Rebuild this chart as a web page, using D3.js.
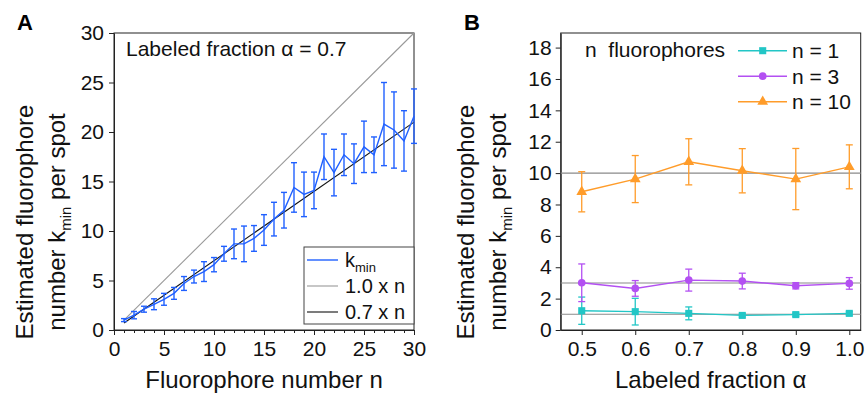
<!DOCTYPE html>
<html>
<head>
<meta charset="utf-8">
<script src="https://cdn.jsdelivr.net/npm/d3@7"></script>
<style>
  body { margin: 0; background: #fff; }
  svg { font-family: "Liberation Sans", Arial, sans-serif; }
</style>
</head>
<body>
<svg id="chart" width="865" height="394"></svg>
<script>
// ---- panel A data
const fluorophoreN = [1,2,3,4,5,6,7,8,9,10,11,12,13,14,15,16,17,18,19,20,21,22,23,24,25,26,27,28,29,30];
const kminMean = [1.0,1.5,2.1,2.6,3.1,3.7,4.7,5.4,5.9,6.6,7.7,8.7,8.7,9.25,10.1,11.2,12.1,14.4,13.7,14.1,17.5,15.9,17.7,16.8,18.5,17.7,20.8,20.2,19.1,21.6];
const kminErr = [0.15,0.37,0.3,0.55,0.6,0.6,0.7,0.65,1.0,0.72,0.75,1.5,1.8,1.3,1.55,1.7,1.8,2.5,2.25,1.85,2.3,2.35,2.1,2.0,2.6,1.8,4.2,3.85,3.05,2.75];
const refSlopes = [1.0, 0.7];
const refLabels = ['1.0 x n', '0.7 x n'];
const ticksA_x = [0,5,10,15,20,25,30];
const ticksA_y = [0,5,10,15,20,25,30];

// ---- panel B data
const alphas = [0.5,0.6,0.7,0.8,0.9,1.0];
const n1Mean = [1.23,1.17,1.06,0.93,0.98,1.06];
const n1Err = [0.87,0.85,0.41,0.1,0.1,0.1];
const n3Mean = [3.01,2.65,3.18,3.12,2.82,2.97];
const n3Err = [1.2,0.5,0.7,0.5,0.2,0.37];
const n10Mean = [8.81,9.62,10.72,10.15,9.62,10.4];
const n10Err = [1.28,1.5,1.47,1.41,1.95,1.4];
const seriesLabels = ['n = 1', 'n = 3', 'n = 10'];
const trueN = [1, 3, 10];
const ticksB_y = [0,2,4,6,8,10,12,14,16,18];

const svg = d3.select('#chart');

function yTitle(g, x1, x2, cy) {
  // two-line rotated title with subscript
  g.append('text')
    .attr('transform', `translate(${x1},${cy}) rotate(-90)`)
    .attr('text-anchor', 'middle')
    .style('font-size', '24px').attr('fill', '#111')
    .text('Estimated fluorophore');
  const t = g.append('text')
    .attr('transform', `translate(${x2},${cy}) rotate(-90)`)
    .attr('text-anchor', 'middle')
    .style('font-size', '24px').attr('fill', '#111');
  t.append('tspan').text('number k');
  t.append('tspan').text('min').style('font-size', '15px').attr('dy', 6);
  t.append('tspan').text(' per spot').attr('dy', -6);
}

function styleAxis(sel) {
  sel.select('.domain').attr('stroke', '#222');
  sel.selectAll('.tick line').attr('stroke', '#222');
  sel.selectAll('.tick text').style('font-size', '21px').attr('fill', '#111');
}

// ================= Panel A =================
const xA = d3.scaleLinear().domain([0, 30]).range([114, 414]);
const yA = d3.scaleLinear().domain([0, 30]).range([330, 33]);
const gA = svg.append('g');

gA.append('rect')
  .attr('x', xA(0)).attr('y', yA(30))
  .attr('width', xA(30) - xA(0)).attr('height', yA(0) - yA(30))
  .attr('fill', 'none').attr('stroke', '#222');

// minor ticks on x
gA.append('g')
  .attr('transform', `translate(0,${yA(0)})`)
  .call(d3.axisBottom(xA).tickValues(fluorophoreN).tickSize(3).tickFormat(''))
  .call(s => { s.select('.domain').remove(); s.selectAll('line').attr('stroke', '#222'); });

gA.append('g')
  .attr('transform', `translate(0,${yA(0)})`)
  .call(d3.axisBottom(xA).tickValues(ticksA_x).tickSize(5).tickPadding(6).tickSizeOuter(0))
  .call(styleAxis);

gA.append('g')
  .attr('transform', `translate(${xA(0)},0)`)
  .call(d3.axisLeft(yA).tickValues(ticksA_y).tickSize(5).tickPadding(5).tickSizeOuter(0))
  .call(styleAxis);

// reference lines
const refColors = ['#999', '#111'];
gA.selectAll('.ref')
  .data(refSlopes)
  .join('line')
  .attr('x1', xA(fluorophoreN[0])).attr('y1', d => yA(d * fluorophoreN[0]))
  .attr('x2', xA(fluorophoreN[fluorophoreN.length - 1]))
  .attr('y2', d => yA(d * fluorophoreN[fluorophoreN.length - 1]))
  .attr('stroke', (d, i) => refColors[i]).attr('stroke-width', 1.1);

const blue = '#2060ff';
const ptsA = fluorophoreN.map((n, i) => ({x: n, y: kminMean[i], e: kminErr[i]}));

gA.append('path')
  .datum(ptsA)
  .attr('fill', 'none').attr('stroke', blue).attr('stroke-width', 1.4)
  .attr('d', d3.line().x(d => xA(d.x)).y(d => yA(d.y)));

const errA = gA.selectAll('.errA').data(ptsA).join('g').attr('stroke', blue).attr('stroke-width', 1.4);
errA.append('line')
  .attr('x1', d => xA(d.x)).attr('x2', d => xA(d.x))
  .attr('y1', d => yA(d.y - d.e)).attr('y2', d => yA(d.y + d.e));
errA.append('line')
  .attr('x1', d => xA(d.x) - 3).attr('x2', d => xA(d.x) + 3)
  .attr('y1', d => yA(d.y - d.e)).attr('y2', d => yA(d.y - d.e));
errA.append('line')
  .attr('x1', d => xA(d.x) - 3).attr('x2', d => xA(d.x) + 3)
  .attr('y1', d => yA(d.y + d.e)).attr('y2', d => yA(d.y + d.e));

gA.append('text')
  .attr('x', 126).attr('y', 56)
  .style('font-size', '21px').attr('fill', '#111')
  .text('Labeled fraction \u03b1 = 0.7');

// legend A
const legA = gA.append('g');
legA.append('rect')
  .attr('x', 304).attr('y', 247).attr('width', 110).attr('height', 77)
  .attr('fill', '#fff').attr('stroke', '#444');
const legItemsA = [{c: blue, w: 1.4}, {c: refColors[0], w: 1.1}, {c: refColors[1], w: 1.1}];
legItemsA.forEach((d, i) => {
  const y = 260 + i * 26;
  legA.append('line').attr('x1', 307).attr('x2', 338).attr('y1', y).attr('y2', y)
    .attr('stroke', d.c).attr('stroke-width', d.w);
  const t = legA.append('text').attr('x', 345).attr('y', y + 7)
    .style('font-size', '20px').attr('fill', '#111');
  if (i === 0) {
    t.append('tspan').text('k');
    t.append('tspan').text('min').style('font-size', '13px').attr('dy', 5);
  } else {
    t.text(refLabels[i - 1]);
  }
});

gA.append('text').attr('x', 17).attr('y', 30)
  .style('font-size', '22px').style('font-weight', 'bold').text('A');

yTitle(gA, 33, 65, 222);

gA.append('text')
  .attr('x', (xA(0) + xA(30)) / 2).attr('y', 388)
  .attr('text-anchor', 'middle')
  .style('font-size', '24px').attr('fill', '#111')
  .text('Fluorophore number n');

// ================= Panel B =================
const xB = d3.scaleLinear().domain([0.4607, 1.0213]).range([560.7, 860.7]);
const yB = d3.scaleLinear().domain([0, 18.93]).range([330, 33]);
const gB = svg.append('g');

gB.append('rect')
  .attr('x', xB.range()[0]).attr('y', yB.range()[1])
  .attr('width', xB.range()[1] - xB.range()[0]).attr('height', yB.range()[0] - yB.range()[1])
  .attr('fill', 'none').attr('stroke', '#222');

gB.append('g')
  .attr('transform', `translate(0,${yB(0)})`)
  .call(d3.axisBottom(xB).tickValues(alphas).tickFormat(d3.format('.1f')).tickSize(5).tickPadding(6).tickSizeOuter(0))
  .call(styleAxis);

gB.append('g')
  .attr('transform', `translate(${xB.range()[0]},0)`)
  .call(d3.axisLeft(yB).tickValues(ticksB_y).tickSize(5).tickPadding(4).tickSizeOuter(0))
  .call(styleAxis);

// true-n reference lines
gB.selectAll('.hline')
  .data(trueN)
  .join('line')
  .attr('x1', xB.range()[0]).attr('x2', xB.range()[1])
  .attr('y1', d => yB(d)).attr('y2', d => yB(d))
  .attr('stroke', '#8a8a8a').attr('stroke-width', 1.1);

const seriesB = [
  {mean: n1Mean, err: n1Err, color: '#22c6c6', sym: d3.symbolSquare, size: 50},
  {mean: n3Mean, err: n3Err, color: '#b350f2', sym: d3.symbolCircle, size: 46},
  {mean: n10Mean, err: n10Err, color: '#ff9c2a', sym: d3.symbolTriangle, size: 50}
];

seriesB.forEach(s => {
  const pts = alphas.map((a, i) => ({x: a, y: s.mean[i], e: s.err[i]}));
  const g = gB.append('g');
  g.append('path').datum(pts)
    .attr('fill', 'none').attr('stroke', s.color).attr('stroke-width', 1.4)
    .attr('d', d3.line().x(d => xB(d.x)).y(d => yB(d.y)));
  const eb = g.selectAll('.eb').data(pts).join('g').attr('stroke', s.color).attr('stroke-width', 1.3);
  eb.append('line')
    .attr('x1', d => xB(d.x)).attr('x2', d => xB(d.x))
    .attr('y1', d => yB(d.y - d.e)).attr('y2', d => yB(d.y + d.e));
  [-1, 1].forEach(k => {
    eb.append('line')
      .attr('x1', d => xB(d.x) - 3.5).attr('x2', d => xB(d.x) + 3.5)
      .attr('y1', d => yB(d.y + k * d.e)).attr('y2', d => yB(d.y + k * d.e));
  });
  g.selectAll('.mk').data(pts).join('path')
    .attr('transform', d => `translate(${xB(d.x)},${yB(d.y)})`)
    .attr('d', d3.symbol().type(s.sym).size(s.size))
    .attr('fill', s.color);
});

// legend B
gB.append('text').attr('x', 585).attr('y', 57)
  .style('font-size', '21px').attr('fill', '#111')
  .text('n\u00a0 fluorophores');
seriesB.forEach((s, i) => {
  const y = 50.7 + i * 25.5;
  gB.append('line').attr('x1', 738).attr('x2', 787).attr('y1', y).attr('y2', y)
    .attr('stroke', s.color).attr('stroke-width', 1.4);
  gB.append('path').attr('transform', `translate(762.7,${y})`)
    .attr('d', d3.symbol().type(s.sym).size(s.size)).attr('fill', s.color);
  gB.append('text').attr('x', 792).attr('y', y + 7.5)
    .style('font-size', '21px').attr('fill', '#111')
    .text(seriesLabels[i]);
});

gB.append('text').attr('x', 464).attr('y', 30)
  .style('font-size', '22px').style('font-weight', 'bold').text('B');

yTitle(gB, 474, 506, 222);

gB.append('text')
  .attr('x', (xB.range()[0] + xB.range()[1]) / 2).attr('y', 388)
  .attr('text-anchor', 'middle')
  .style('font-size', '24px').attr('fill', '#111')
  .text('Labeled fraction \u03b1');
</script>
</body>
</html>
